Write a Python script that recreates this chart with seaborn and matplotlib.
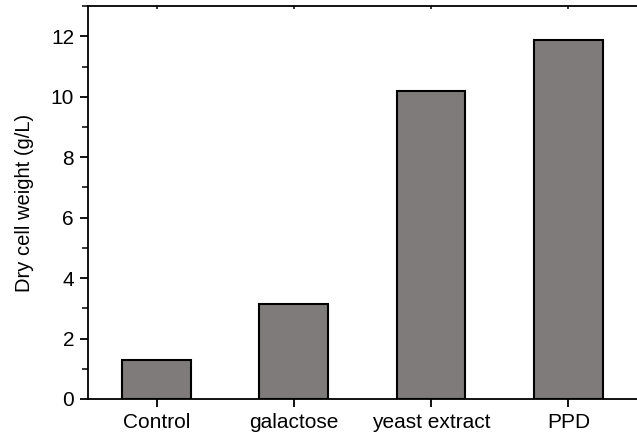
import matplotlib
matplotlib.use("Agg")
import matplotlib.pyplot as plt
import seaborn as sns
import pandas as pd
from matplotlib.ticker import MultipleLocator

categories = ["Control", "galactose", "yeast extract", "PPD"]
values = [1.28, 3.14, 10.18, 11.88]

df = pd.DataFrame({"medium": categories, "dcw": values})

sns.set_theme(style="ticks")
plt.rcParams["font.family"] = ["Liberation Sans", "DejaVu Sans"]

fig = plt.figure(figsize=(6.37, 4.36), dpi=100)
ax = fig.add_axes([0.138, 0.085, 0.862, 0.901])

sns.barplot(data=df, x="medium", y="dcw", ax=ax, color="#7f7b7b",
            saturation=1, width=0.5, edgecolor="black", linewidth=1.5)

ax.set_xlim(-0.5, 3.5)
ax.set_ylim(0, 13)
ax.yaxis.set_major_locator(MultipleLocator(2))
ax.yaxis.set_minor_locator(MultipleLocator(1))
ax.tick_params(axis="y", which="major", direction="out", length=6, width=1.3,
               labelsize=15, colors="black", pad=4)
ax.tick_params(axis="y", which="minor", direction="out", length=4, width=1.3)
ax.tick_params(axis="x", which="major", bottom=True, top=False, direction="out",
               length=6, width=1.3, labelsize=15, colors="black", pad=4)
for s in ["left", "bottom", "top"]:
    ax.spines[s].set_linewidth(1.3)
    ax.spines[s].set_color("black")
ax.spines["right"].set_visible(False)

# tiny marks on the top spine
sec = ax.secondary_xaxis("top")
sec.set_xticks(range(len(categories)))
sec.set_xticklabels([])
sec.tick_params(direction="in", length=2, width=1.3)
sec.spines["top"].set_visible(False)

ax.set_xlabel("")
ax.set_ylabel("Dry cell weight (g/L)", fontsize=14.5, color="black", labelpad=12)

fig.savefig("out.png", dpi=100)
